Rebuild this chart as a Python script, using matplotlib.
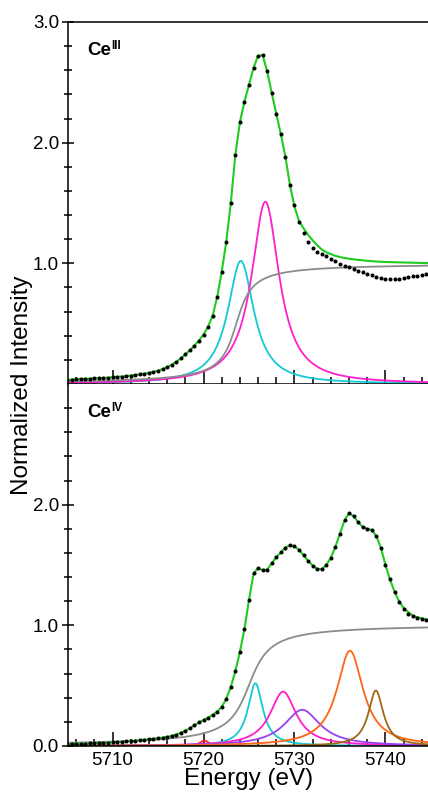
#Ce L3-edge XANES fits - Ce(III) and Ce(IV)
import numpy as np
import matplotlib
matplotlib.use('Agg')
from matplotlib import pyplot as plt
from matplotlib.ticker import MultipleLocator, FixedLocator

plt.rcParams['font.family'] = ['Liberation Sans', 'DejaVu Sans']

# measured energies (eV), every 0.5 eV
energy = np.arange(5705.0, 5745.25, 0.5)

# ---- Ce(III) panel ----
fit3 = [0.035, 0.037, 0.039, 0.041, 0.043, 0.045, 0.047, 0.049, 0.051, 0.053,
        0.056, 0.059, 0.062, 0.066, 0.070, 0.075, 0.080, 0.086, 0.093, 0.101,
        0.111, 0.124, 0.140, 0.160, 0.184, 0.212, 0.245, 0.280, 0.318, 0.360,
        0.410, 0.475, 0.565, 0.720, 0.930, 1.180, 1.500, 1.900, 2.170, 2.340,
        2.480, 2.620, 2.720, 2.725, 2.590, 2.410, 2.240, 2.070, 1.885, 1.650,
        1.470, 1.350, 1.290, 1.235, 1.190, 1.150, 1.115, 1.092, 1.076, 1.062,
        1.052, 1.044, 1.038, 1.033, 1.029, 1.025, 1.021, 1.018, 1.015, 1.013,
        1.011, 1.010, 1.009, 1.008, 1.007, 1.006, 1.005, 1.004, 1.003, 1.002,
        1.001]
data3 = [0.035, 0.037, 0.039, 0.041, 0.043, 0.045, 0.047, 0.049, 0.051, 0.053,
         0.056, 0.059, 0.062, 0.066, 0.070, 0.075, 0.080, 0.086, 0.093, 0.101,
         0.111, 0.124, 0.140, 0.160, 0.184, 0.212, 0.245, 0.280, 0.318, 0.360,
         0.410, 0.475, 0.565, 0.720, 0.930, 1.180, 1.500, 1.900, 2.170, 2.340,
         2.480, 2.620, 2.720, 2.725, 2.590, 2.410, 2.240, 2.070, 1.885, 1.650,
         1.480, 1.340, 1.250, 1.180, 1.130, 1.097, 1.078, 1.060, 1.040, 1.016,
         0.995, 0.982, 0.967, 0.953, 0.938, 0.925, 0.912, 0.900, 0.888, 0.878,
         0.870, 0.867, 0.869, 0.874, 0.880, 0.886, 0.892, 0.898, 0.904, 0.910,
         0.914]
# fit components (Lorentzian): centre, height, half width
peak3_center = [5724.1, 5726.8]
peak3_height = [1.02, 1.51]
peak3_hwhm = [1.75, 1.85]
peak3_color = ['#14c8d4', '#ff1ecb']
# arctangent edge step: centre, width, height
step3 = [5723.6, 1.3, 1.0]

# ---- Ce(IV) panel ----
fit4 = [0.016, 0.017, 0.018, 0.019, 0.020, 0.021, 0.023, 0.025, 0.027, 0.029,
        0.031, 0.033, 0.035, 0.038, 0.041, 0.044, 0.048, 0.052, 0.056, 0.060,
        0.065, 0.070, 0.076, 0.084, 0.095, 0.110, 0.128, 0.148, 0.172, 0.195,
        0.215, 0.235, 0.258, 0.285, 0.325, 0.390, 0.490, 0.620, 0.780, 0.970,
        1.210, 1.430, 1.475, 1.458, 1.462, 1.515, 1.565, 1.605, 1.645, 1.663,
        1.655, 1.625, 1.580, 1.535, 1.495, 1.468, 1.465, 1.500, 1.560, 1.650,
        1.760, 1.870, 1.930, 1.905, 1.855, 1.815, 1.800, 1.790, 1.740, 1.645,
        1.500, 1.380, 1.280, 1.198, 1.145, 1.110, 1.080, 1.068, 1.058, 1.050,
        1.045]
data4 = [0.016, 0.017, 0.018, 0.019, 0.020, 0.021, 0.023, 0.025, 0.027, 0.029,
         0.031, 0.033, 0.035, 0.038, 0.041, 0.044, 0.048, 0.052, 0.056, 0.060,
         0.065, 0.070, 0.076, 0.084, 0.095, 0.110, 0.128, 0.148, 0.172, 0.195,
         0.215, 0.235, 0.258, 0.285, 0.325, 0.390, 0.490, 0.620, 0.780, 0.970,
         1.210, 1.430, 1.475, 1.458, 1.462, 1.515, 1.565, 1.605, 1.645, 1.663,
         1.655, 1.625, 1.580, 1.535, 1.495, 1.468, 1.465, 1.500, 1.560, 1.650,
         1.760, 1.870, 1.930, 1.905, 1.855, 1.815, 1.800, 1.790, 1.740, 1.645,
         1.500, 1.380, 1.275, 1.190, 1.135, 1.098, 1.074, 1.060, 1.050, 1.043,
         1.038]
peak4_center = [5720.1, 5725.7, 5728.75, 5730.85, 5736.1, 5738.95]
peak4_height = [0.045, 0.52, 0.45, 0.30, 0.79, 0.46]
peak4_hwhm = [0.6, 1.0, 1.75, 2.4, 1.75, 1.0]
peak4_color = ['#ff2020', '#14c8d4', '#ff1ecb', '#9a40f0', '#ff6414', '#9c6a14']
step4 = [5725.0, 1.7, 1.01]

fit_color = '#1ecc1e'
step_color = '#8c8c8c'

x = np.linspace(5704, 5746, 1201)


def lorentz(e, c, h, g):
    return h * g**2 / ((e - c)**2 + g**2)


def arcstep(e, c, w, h):
    return h * (0.5 + np.arctan((e - c) / w) / np.pi)


fig = plt.figure(figsize=(4.28, 7.92), dpi=100)
ax1 = fig.add_axes([68/428, 1-384/792, 362/428, 362/792])
ax2 = fig.add_axes([68/428, 1-746/792, 362/428, 362/792])

panels = [
    (ax1, fit3, data3, peak3_center, peak3_height, peak3_hwhm, peak3_color, step3, 'III'),
    (ax2, fit4, data4, peak4_center, peak4_height, peak4_hwhm, peak4_color, step4, 'IV'),
]

for ax, fit, data, cen, hei, wid, cols, st, ox in panels:
    for c, h, g, col in zip(cen, hei, wid, cols):
        ax.plot(x, lorentz(x, c, h, g), color=col, lw=1.3, zorder=2)
    ax.plot(x, arcstep(x, *st), color=step_color, lw=1.3, zorder=2)
    ax.plot(energy, fit, color=fit_color, lw=1.5, zorder=3)
    ax.plot(energy, data, 'o', color='black', ms=2.9, mew=0, zorder=4)

    ax.set_xlim(5705.1, 5744.9)
    ax.set_ylim(0, 3.0)
    ax.spines['right'].set_visible(False)
    for s in ax.spines.values():
        s.set_linewidth(1.1)
    ax.xaxis.set_major_locator(MultipleLocator(10))
    ax.xaxis.set_minor_locator(MultipleLocator(2))
    ax.yaxis.set_minor_locator(FixedLocator([v/5 for v in range(1, 15) if v % 5]))
    ax.tick_params(axis='x', which='major', direction='in', length=10, width=1.1,
                   labelsize=13.5, pad=4, top=False)
    ax.tick_params(axis='x', which='minor', direction='in', length=5, width=1.1, top=False)
    ax.tick_params(axis='y', which='major', direction='inout', length=9, width=1.1,
                   labelsize=13.5, pad=2)
    ax.tick_params(axis='y', which='minor', direction='inout', length=6, width=1.1)

    t = ax.text(5707.2, 2.73, 'Ce', fontsize=13.5, fontweight='bold', va='baseline')
    ax.annotate(ox, xy=(1.0, 1.0), xycoords=t, xytext=(0.5, 1), textcoords='offset points',
                fontsize=8.5, fontweight='bold', va='top', ha='left')

ax1.set_yticks([1, 2, 3])
ax1.set_yticklabels(['1.0', '2.0', '3.0'])
ax1.tick_params(axis='x', labelbottom=False)
ax2.set_yticks([0, 1, 2])
ax2.set_yticklabels(['0.0', '1.0', '2.0'])
ax2.spines['top'].set_visible(False)

fig.text(0.052, 0.514, 'Normalized Intensity', rotation=90, fontsize=17.5,
         ha='center', va='center')
fig.text(0.58, 0.009, 'Energy (eV)', fontsize=17.5, ha='center', va='baseline')

plt.savefig('out.png', dpi=100)
